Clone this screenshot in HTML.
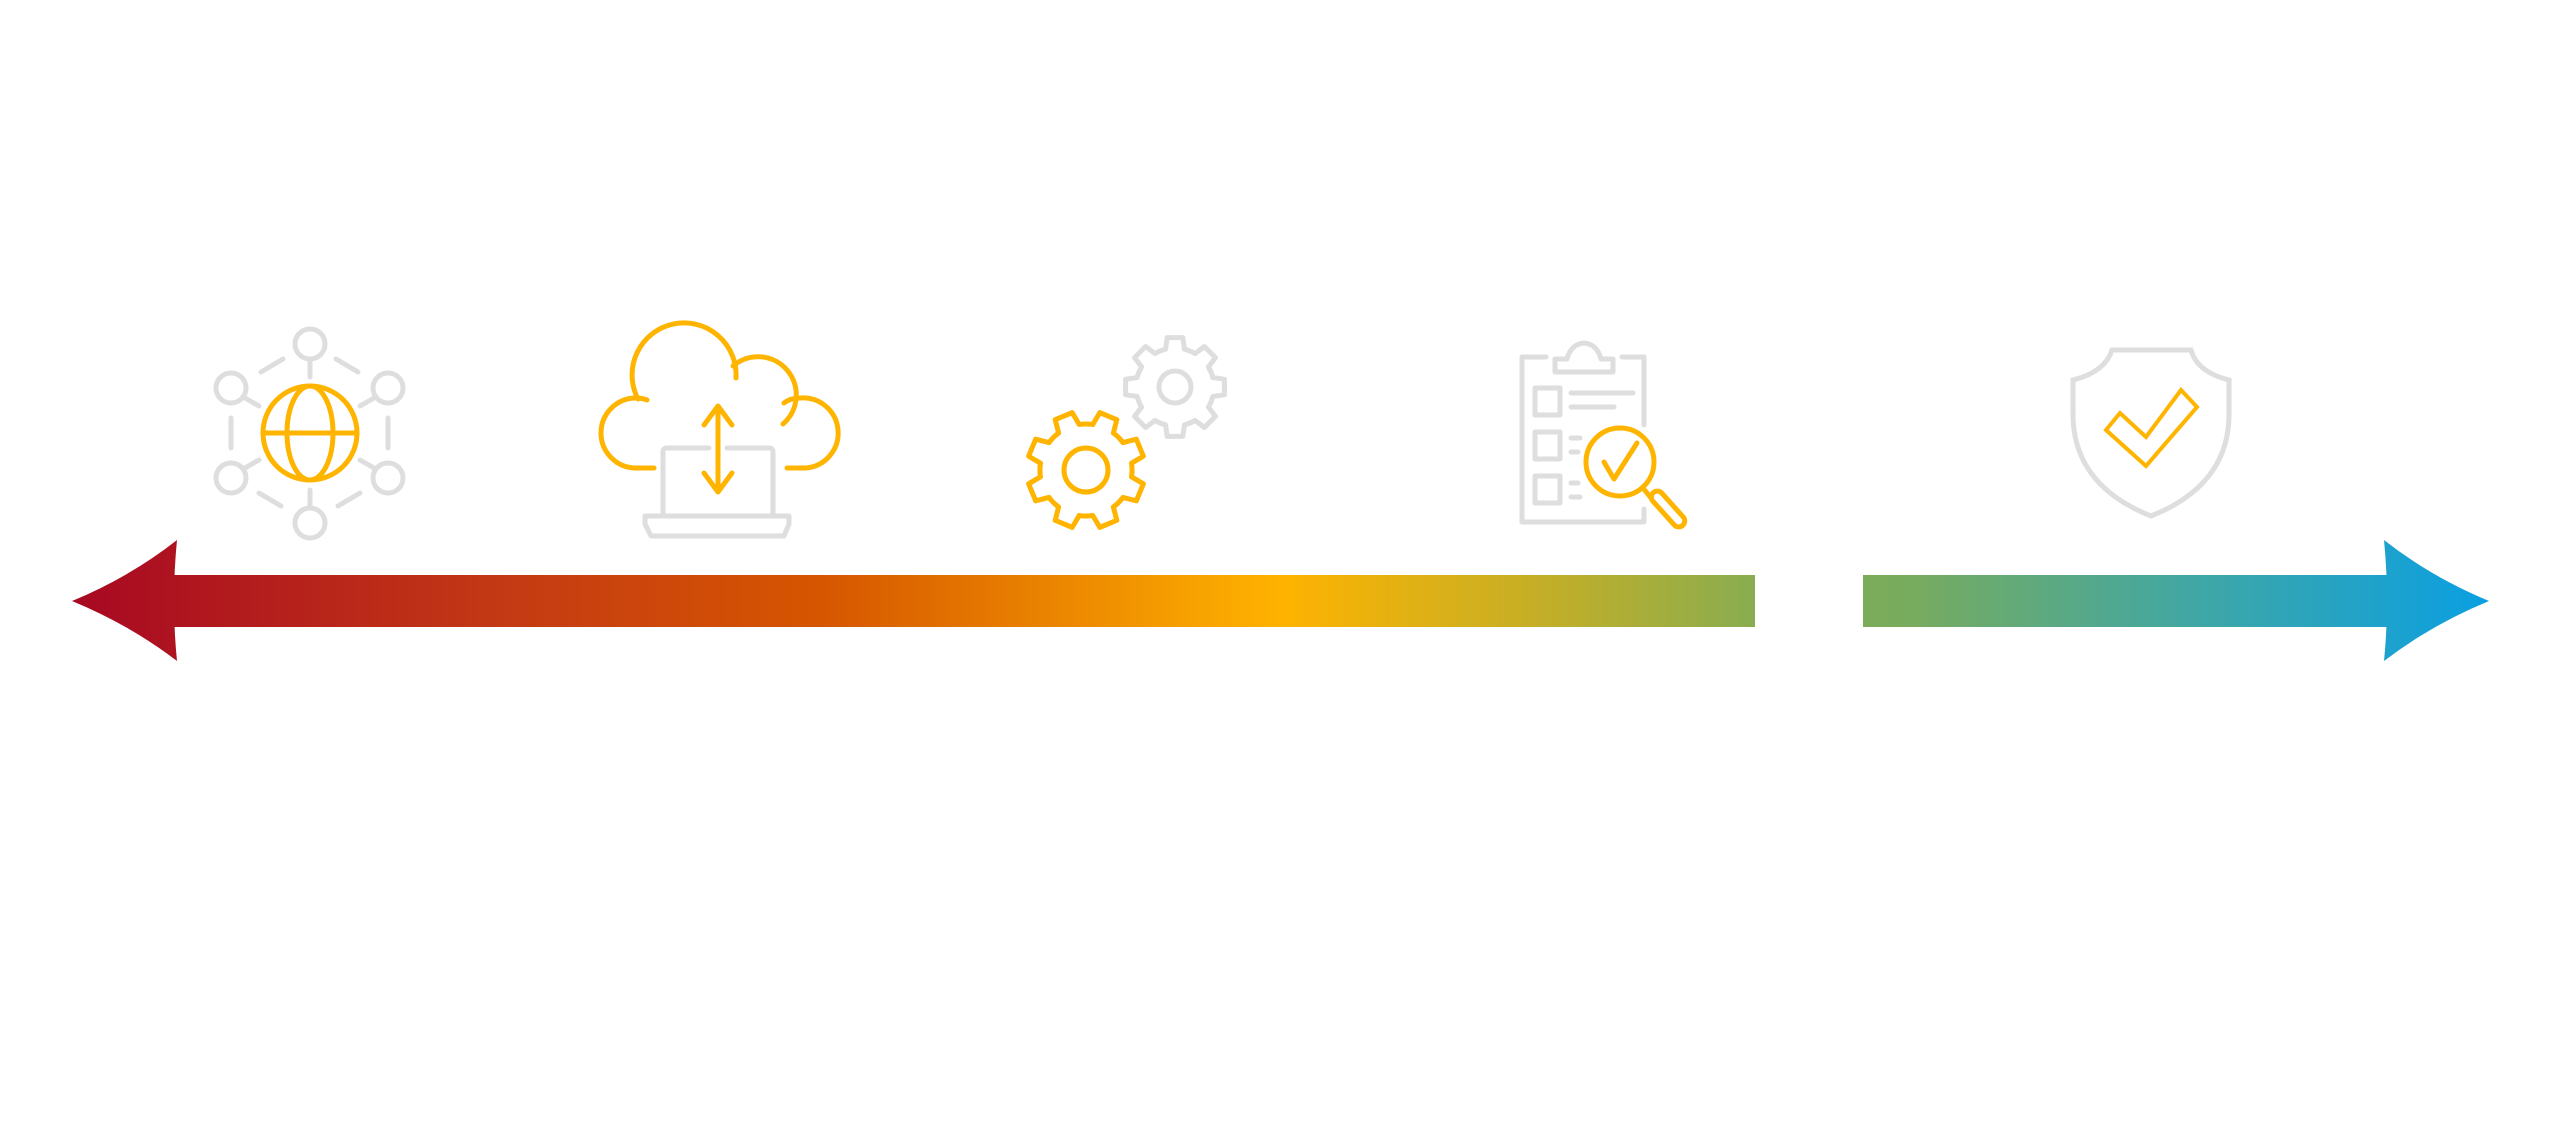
<!DOCTYPE html>
<html><head><meta charset="utf-8"><style>html,body{margin:0;padding:0;background:#fff}svg{display:block}</style></head>
<body>
<svg width="2560" height="1121" viewBox="0 0 2560 1121" xmlns="http://www.w3.org/2000/svg">
<defs>
<linearGradient id="g" gradientUnits="userSpaceOnUse" x1="72" y1="0" x2="2490" y2="0">
<stop offset="0" stop-color="#a70823"/>
<stop offset="0.18" stop-color="#c43a14"/>
<stop offset="0.31" stop-color="#d65600"/>
<stop offset="0.50" stop-color="#ffb300"/>
<stop offset="0.62" stop-color="#bcae2c"/>
<stop offset="0.70" stop-color="#86ad52"/>
<stop offset="0.76" stop-color="#78ab5e"/>
<stop offset="0.88" stop-color="#3fa7a6"/>
<stop offset="1" stop-color="#0a9fe2"/>
</linearGradient>
<g id="tooth"><path d="M.757 -.189 L.988 -.156 L.988 .156 L.757 .189 A.78 .78 0 0 1 .669 .402"/></g>
<g id="gear">
<use href="#tooth"/><use href="#tooth" transform="rotate(45)"/><use href="#tooth" transform="rotate(90)"/><use href="#tooth" transform="rotate(135)"/>
<use href="#tooth" transform="rotate(180)"/><use href="#tooth" transform="rotate(225)"/><use href="#tooth" transform="rotate(270)"/><use href="#tooth" transform="rotate(315)"/>
</g>
</defs>

<!-- arrow -->
<g fill="url(#g)">
<rect x="168" y="575" width="1587" height="52"/>
<rect x="1863" y="575" width="530" height="52"/>
<path d="M177,540 Q171,601 177,661 Q130,625 72,601 Q130,577 177,540 Z"/>
<path d="M2384,540 Q2390,601 2384,661 Q2431,625 2489,601 Q2431,577 2384,540 Z"/>
</g>

<!-- network icon -->
<g fill="none" stroke="#dedede" stroke-width="5" stroke-linecap="round">
<circle cx="310" cy="344" r="15"/>
<circle cx="310" cy="523" r="15"/>
<circle cx="231" cy="388" r="15"/>
<circle cx="388" cy="388" r="15"/>
<circle cx="231" cy="478" r="15"/>
<circle cx="388" cy="478" r="15"/>
<line x1="310" y1="360" x2="310" y2="377"/>
<line x1="310" y1="490" x2="310" y2="507"/>
<line x1="245" y1="398" x2="259" y2="406"/>
<line x1="374" y1="398" x2="360" y2="406"/>
<line x1="245" y1="468" x2="259" y2="460"/>
<line x1="374" y1="468" x2="360" y2="460"/>
<line x1="261" y1="372" x2="283" y2="359"/>
<line x1="336" y1="359" x2="358" y2="372"/>
<line x1="259" y1="493" x2="281" y2="506"/>
<line x1="338" y1="506" x2="360" y2="493"/>
<line x1="231" y1="418" x2="231" y2="448"/>
<line x1="388" y1="418" x2="388" y2="448"/>
</g>
<g fill="none" stroke="#ffb400" stroke-width="5">
<circle cx="310" cy="433" r="47"/>
<ellipse cx="310" cy="433" rx="23" ry="47"/>
<line x1="264" y1="433" x2="356" y2="433"/>
</g>

<!-- cloud icon -->
<g fill="none" stroke="#ffb400" stroke-width="5" stroke-linecap="round" stroke-linejoin="round">
<path d="M654,468 H636 A35,35 0 0 1 636,398 Q642,398 647,400"/>
<path d="M638,399 A52,52 0 1 1 736,378"/>
<path d="M733,366 A38,38 0 0 1 783,424"/>
<path d="M784,403 Q790,398 800,398 A35,35 0 1 1 806,468 H787"/>
<line x1="718" y1="408" x2="718" y2="490"/>
<polyline points="704,425 718,406 732,425"/>
<polyline points="704,473 718,492 732,473"/>
</g>
<g fill="none" stroke="#dedede" stroke-width="5" stroke-linecap="round" stroke-linejoin="round">
<path d="M709,448 H667 Q663,448 663,452 V516"/>
<path d="M727,448 H769 Q773,448 773,452 V516"/>
<path d="M645,516 H789 V524 L784,536 H651 L645,524 Z"/>
</g>

<!-- gears -->
<g fill="none" stroke-linecap="round" stroke-linejoin="round">
<g transform="translate(1175,387) scale(50)" stroke="#dedede" stroke-width="0.1"><use href="#gear" transform="rotate(-90)"/></g>
<circle cx="1175" cy="387" r="16" stroke="#dedede" stroke-width="5"/>
<g transform="translate(1086,470) scale(59)" stroke="#ffb400" stroke-width="0.085"><use href="#gear" transform="rotate(-67.5)"/></g>
<circle cx="1086" cy="470" r="22" stroke="#ffb400" stroke-width="5"/>
</g>

<!-- clipboard -->
<g fill="none" stroke="#dedede" stroke-width="5" stroke-linecap="round" stroke-linejoin="round">
<path d="M1546,357 H1522 V522 H1644 V509"/>
<path d="M1622,357 H1644 V425"/>
<path d="M1555,359 V372 H1613 V359 H1601 Q1597,344 1584,343 Q1571,344 1567,359 Z"/>
<rect x="1535" y="388" width="25" height="27"/>
<rect x="1535" y="432" width="25" height="27"/>
<rect x="1535" y="476" width="25" height="27"/>
<line x1="1571" y1="393" x2="1633" y2="393"/>
<line x1="1571" y1="407" x2="1614" y2="407"/>
<line x1="1571" y1="438" x2="1580" y2="438"/>
<line x1="1571" y1="452" x2="1578" y2="452"/>
<line x1="1571" y1="483" x2="1578" y2="483"/>
<line x1="1571" y1="497" x2="1580" y2="497"/>
</g>
<g fill="none" stroke="#ffb400" stroke-width="5" stroke-linecap="round" stroke-linejoin="round">
<circle cx="1620" cy="462" r="34"/>
<polyline points="1604,462 1614,479 1637,443"/>
<line x1="1643" y1="488" x2="1651" y2="498"/>
<g transform="translate(1668,509) rotate(48)"><rect x="-22" y="-6" width="44" height="12" rx="6"/></g>
</g>

<!-- shield -->
<g fill="none" stroke-linejoin="miter">
<path d="M2112,350 H2191 Q2197,372 2229,380 V414 Q2229,485 2151,516 Q2073,485 2073,414 V380 Q2105,372 2112,350 Z" stroke="#dedede" stroke-width="5"/>
<polygon points="2181,390 2197,407 2146,466 2106,430 2120,413 2146,437" stroke="#ffb400" stroke-width="4"/>
</g>
</svg>
</body></html>
